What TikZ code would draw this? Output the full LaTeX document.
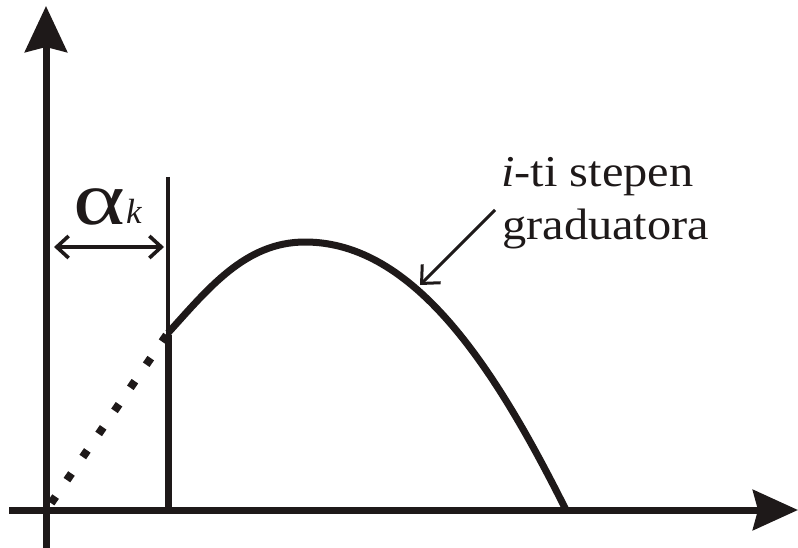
\documentclass[tikz,border=0pt]{standalone}
\usepackage{fontspec}
\setmainfont{Liberation Serif}
\newfontfamily\tfont[FakeStretch=1.1]{Liberation Serif}
\newfontfamily\afont[FakeStretch=1.3]{Liberation Serif}
\usetikzlibrary{arrows.meta}
\definecolor{ink}{RGB}{30,25,25}
\tikzset{
  axis/.style={line width=7pt, draw=ink, -{Stealth[length=46pt,width=42pt,inset=5pt]}},
  thick line/.style={line width=7pt, draw=ink},
  thin line/.style={line width=3.6pt, draw=ink},
  chev/.tip={Straight Barb[length=12pt,width=22pt,line width=3.6pt]},
  lbl/.style={inner sep=0pt, text=ink, align=left},
}
\begin{document}
\begin{tikzpicture}[x=1pt,y=-1pt]
\useasboundingbox (0,0) rectangle (798,548);
% axes
\coordinate (ybot) at (46,548);
\coordinate (ytop) at (46,6);
\coordinate (xl) at (9,510);
\coordinate (xr) at (798,510);
\draw[axis] (ybot) -- (ytop);
\draw[axis,-{Stealth[length=45pt,width=40pt,inset=5pt]}] (xl) -- (xr);
% vertical marker
\coordinate (vtop) at (168,177);
\coordinate (vmid) at (168,335);
\coordinate (vbot) at (168,510);
\draw[thin line, line width=4pt] (vtop) -- (vmid);
\draw[thick line] (vmid) -- (vbot);
% dotted part
\coordinate (d0) at (50.5,504);
\coordinate (d1) at (168,333);
\draw[ink, line width=8pt, dash pattern=on 8pt off 20pt, dash phase=-1pt] (d0) -- (d1);
% curve
\coordinate (c0) at (168,333);
\coordinate (peak) at (305,242);
\coordinate (c1) at (566,510);
\draw[thick line, line join=round] (c0) .. controls (208,289) and (245,242) .. (peak)
  .. controls (415,242) and (496,370) .. (c1);
% alpha_k dimension
\coordinate (aL) at (54,247);
\coordinate (aR) at (164,247);
\draw[thin line, {chev}-{chev}] (aL) -- (aR);
\node[lbl, anchor=base west] (alpha) at (73,225) {\afont\fontsize{76}{76}\selectfont α};
\node[lbl, anchor=base west] (k) at (126,224) {\fontsize{35}{35}\selectfont\itshape k};
% label and pointer
\node[lbl, anchor=base west] (t1) at (501,187) {\tfont\fontsize{44}{44}\selectfont\itshape i\upshape-ti stepen};
\node[lbl, anchor=base west] (t2) at (502,240) {\tfont\fontsize{44}{44}\selectfont graduatora};
\coordinate (p0) at (495,210);
\coordinate (p1) at (420,285);
\draw[thin line, line width=3pt, -{Straight Barb[length=14pt,width=26pt,line width=3pt]}] (p0) -- (p1);
\end{tikzpicture}
\end{document}
